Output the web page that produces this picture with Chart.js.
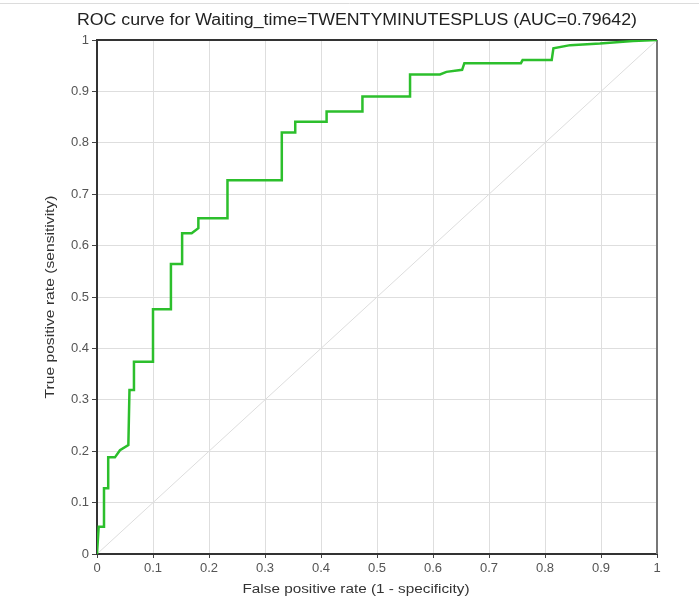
<!DOCTYPE html>
<html>
<head>
<meta charset="utf-8">
<script src="https://cdn.jsdelivr.net/npm/chart.js@4.4.1/dist/chart.umd.min.js"></script>
<style>
html,body{margin:0;padding:0;background:#fff;}
canvas{display:block;}
</style>
</head>
<body>
<canvas id="c" width="699" height="603"></canvas>
<script>
const chartTitle = 'ROC curve for Waiting_time=TWENTYMINUTESPLUS (AUC=0.79642)';
const xAxisTitle = 'False positive rate (1 - specificity)';
const yAxisTitle = 'True positive rate (sensitivity)';
const tickLabels = ['0','0.1','0.2','0.3','0.4','0.5','0.6','0.7','0.8','0.9','1'];

const fpr = [0, 0.003, 0.0125, 0.0125, 0.02, 0.02, 0.032, 0.041, 0.056, 0.058, 0.066, 0.066,
  0.1, 0.1, 0.132, 0.132, 0.152, 0.152, 0.169, 0.181, 0.181, 0.233, 0.233, 0.33, 0.33,
  0.354, 0.354, 0.41, 0.41, 0.474, 0.474, 0.559, 0.559, 0.6125, 0.624, 0.652, 0.656,
  0.757, 0.76, 0.812, 0.815, 0.845, 0.898, 0.957, 1];
const tpr = [0, 0.053, 0.053, 0.128, 0.128, 0.188, 0.188, 0.202, 0.212, 0.319, 0.319, 0.374,
  0.374, 0.476, 0.476, 0.564, 0.564, 0.624, 0.624, 0.634, 0.653, 0.653, 0.727, 0.727, 0.82,
  0.82, 0.841, 0.841, 0.861, 0.861, 0.89, 0.89, 0.933, 0.933, 0.938, 0.942, 0.955,
  0.955, 0.961, 0.961, 0.984, 0.99, 0.993, 0.998, 1];
const diagX = [0, 1];
const diagY = [0, 1];

const rocPoints = fpr.map((x, i) => ({x: x, y: tpr[i]}));
const diagPoints = diagX.map((x, i) => ({x: x, y: diagY[i]}));

const FONT = '"Liberation Sans", Arial, sans-serif';

function stretchedText(ctx, text, cx, cy, width, font, color, rotate, baseline) {
  ctx.save();
  ctx.font = font;
  ctx.fillStyle = color;
  ctx.textAlign = 'center';
  ctx.textBaseline = baseline;
  const w = ctx.measureText(text).width;
  ctx.translate(cx, cy);
  if (rotate) ctx.rotate(-Math.PI / 2);
  ctx.scale(width / w, 1);
  ctx.fillText(text, 0, 0);
  ctx.restore();
}

const framePlugin = {
  id: 'frame',
  beforeDraw(chart) {
    const ctx = chart.ctx;
    ctx.save();
    ctx.fillStyle = '#fff';
    ctx.fillRect(0, 0, chart.width, chart.height);
    ctx.strokeStyle = '#dcdcdc';
    ctx.lineWidth = 1;
    ctx.beginPath();
    ctx.moveTo(0, 3.5);
    ctx.lineTo(chart.width, 3.5);
    ctx.stroke();
    ctx.restore();
  },
  beforeDatasetsDraw(chart) {
    const a = chart.chartArea;
    const ctx = chart.ctx;
    ctx.save();
    ctx.strokeStyle = '#333';
    ctx.lineWidth = 2;
    ctx.beginPath();
    ctx.moveTo(a.left, a.top);
    ctx.lineTo(a.right, a.top);
    ctx.stroke();
    ctx.strokeStyle = '#777';
    ctx.beginPath();
    ctx.moveTo(a.right, a.top);
    ctx.lineTo(a.right, a.bottom);
    ctx.stroke();
    ctx.restore();
  },
  afterDraw(chart) {
    const ctx = chart.ctx;
    stretchedText(ctx, chartTitle, 357, 25, 560, '16px ' + FONT, '#222', false, 'alphabetic');
    stretchedText(ctx, xAxisTitle, 356, 593, 227, '12.5px ' + FONT, '#333', false, 'alphabetic');
    stretchedText(ctx, yAxisTitle, 51, 297, 203, '12.5px ' + FONT, '#333', true, 'middle');
  }
};

new Chart(document.getElementById('c'), {
  type: 'scatter',
  data: {
    datasets: [
      {
        data: diagPoints,
        showLine: true,
        borderColor: '#dddddd',
        borderWidth: 1,
        pointRadius: 0,
        fill: false,
        order: 2
      },
      {
        data: rocPoints,
        showLine: true,
        borderColor: '#2cbf2c',
        borderWidth: 2.5,
        pointRadius: 0,
        fill: false,
        tension: 0,
        order: 1
      }
    ]
  },
  options: {
    responsive: false,
    animation: false,
    devicePixelRatio: 1,
    layout: {padding: {left: 0, right: 42, top: 40, bottom: 0}},
    plugins: {
      legend: {display: false},
      tooltip: {enabled: false},
      title: {display: false}
    },
    scales: {
      x: {
        type: 'linear',
        min: 0, max: 1,
        afterFit(scale) { scale.height = 49; },
        grid: {color: '#dedede', lineWidth: 1, tickLength: 4, tickColor: '#444', drawTicks: true},
        border: {display: true, color: '#333', width: 2},
        ticks: {
          stepSize: 0.1,
          color: '#555',
          padding: 3,
          maxRotation: 0,
          font: {family: FONT, size: 13},
          callback: (v, i) => tickLabels[i]
        },
        title: {display: false}
      },
      y: {
        type: 'linear',
        min: 0, max: 1,
        afterFit(scale) { scale.width = 97; },
        grid: {color: '#dedede', lineWidth: 1, tickLength: 5, tickColor: '#444', drawTicks: true},
        border: {display: true, color: '#333', width: 2},
        ticks: {
          stepSize: 0.1,
          color: '#555',
          padding: 3,
          font: {family: FONT, size: 13},
          callback: (v, i) => tickLabels[i]
        },
        title: {display: false}
      }
    }
  },
  plugins: [framePlugin]
});
</script>
</body>
</html>
